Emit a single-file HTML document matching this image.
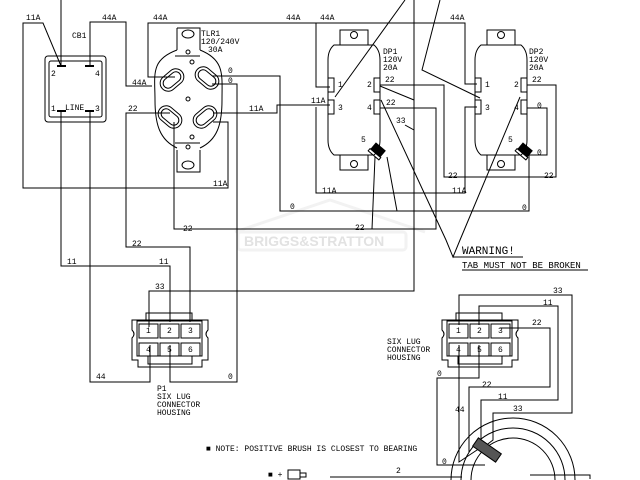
<!DOCTYPE html>
<html><head><meta charset="utf-8"><style>
html,body{margin:0;padding:0;background:#fff;width:640px;height:480px;overflow:hidden}
svg{display:block;overflow:hidden}
text{font-family:"Liberation Mono","DejaVu Sans Mono",monospace;font-size:8px;fill:#000}
</style></head><body>
<svg width="640" height="480" viewBox="0 0 640 480" xmlns="http://www.w3.org/2000/svg">
<defs><clipPath id="cl"><rect x="0" y="0" width="640" height="480"/></clipPath></defs>
<!-- watermark -->
<g opacity="0.08" stroke="#666" fill="none" stroke-width="3">
<path d="M235 232 L330 200 L425 232"/>
<rect x="238" y="232" width="168" height="18" rx="3"/>
</g>
<text x="244" y="246" style="font-size:14px;fill:#e2e2e2;font-family:'Liberation Sans',sans-serif;font-weight:bold">BRIGGS&amp;STRATTON</text>

<g fill="none" stroke="#000" stroke-width="1" clip-path="url(#cl)">
<!-- CB1 -->
<rect x="45" y="56" width="61" height="66" rx="3"/>
<rect x="49" y="61" width="53" height="56" rx="2"/>
<path d="M57 66h9M85 66h9M57 111h9M85 111h9" stroke-width="2"/>
<path d="M61 0V66"/>
<path d="M61 66L43 23H23V188H228V122H213"/>
<path d="M90 66V22H126V86H152"/>
<path d="M61 111V266H170V322"/>
<path d="M90 111V382H150V345"/>
<!-- TLR1 -->
<path d="M177 28H200V50M177 28V50M177 150V172H200V150"/>
<ellipse cx="188" cy="34" rx="6" ry="4"/>
<ellipse cx="188" cy="165" rx="6" ry="4"/>
<path d="M177 50C150 60 155 75 155 100C155 125 160 140 177 148M200 50C225 60 222 75 222 100C222 125 217 140 200 148"/>
<path d="M175 56h25M175 143h25"/>
<circle cx="188" cy="52" r="2"/><circle cx="192" cy="62" r="2"/><circle cx="188" cy="99" r="2"/><circle cx="192" cy="137" r="2"/><circle cx="188" cy="147" r="2"/>
<g transform="translate(172,80) rotate(-40)"><rect x="-13" y="-8" width="26" height="16" rx="8"/><rect x="-10" y="-5" width="20" height="10" rx="5"/></g>
<g transform="translate(207,78) rotate(40)"><rect x="-13" y="-8" width="26" height="16" rx="8"/><rect x="-10" y="-5" width="20" height="10" rx="5"/></g>
<g transform="translate(170,117) rotate(40)"><rect x="-13" y="-8" width="26" height="16" rx="8"/><rect x="-10" y="-5" width="20" height="10" rx="5"/></g>
<g transform="translate(205,117) rotate(-40)"><rect x="-13" y="-8" width="26" height="16" rx="8"/><rect x="-10" y="-5" width="20" height="10" rx="5"/></g>
<path d="M175 77H148V23H316V87H330"/>
<path d="M316 23H465V84H477"/>
<path d="M212 76H280V211H529V155H547V108H527"/>
<path d="M212 84H237V382H170V345"/>
<path d="M213 113H243V113H277V105H330"/>
<path d="M170 113H126V247H190V322"/>
<path d="M174 122V229H436V108H380"/>
<!-- DP1 -->
<g id="dp">
<path d="M340 45V30H368V45M340 155V170H368V155"/>
<circle cx="354" cy="35" r="3.5"/><circle cx="354" cy="164" r="3.5"/>
<path d="M334 45H374Q380 50 380 60V140Q380 150 374 155H334Q328 150 328 140V60Q328 50 334 45Z"/>
<rect x="328" y="78" width="6" height="14"/><rect x="328" y="100" width="6" height="14"/>
<rect x="374" y="78" width="6" height="14"/><rect x="374" y="100" width="6" height="14"/>
<g transform="translate(378,150) rotate(40)"><rect x="-6" y="-4" width="12" height="8" fill="#000"/><rect x="-7" y="4" width="14" height="3"/></g>
</g>
<use href="#dp" x="147"/>
<path d="M316 107V193H465V107H477"/>
<path d="M380 85H444V177H556V85H527"/>
<path d="M414 0V291H149V327"/>
<path d="M405 125L414 130"/>
<path d="M405 0L335 97"/>
<path d="M440 0L422 70L480 98"/>
<path d="M380 86L414 100"/>
<path d="M381 100L446 240L453 257L460 240L520 97"/>
<path d="M453 257H523M462 270H588"/>
<path d="M375 157L372 229M387 157L397 211"/>
<!-- P1 -->
<g id="p1">
<path d="M132 320H208V330Q204 334 208 338V360H202V367H138V360H132V338Q136 334 132 330Z"/>
<rect x="137" y="321" width="65" height="35"/>
<rect x="146" y="313" width="46" height="8"/>
<rect x="139" y="324" width="19" height="14"/><rect x="160" y="324" width="19" height="14"/><rect x="181" y="324" width="19" height="14"/>
<rect x="139" y="343" width="19" height="13"/><rect x="160" y="343" width="19" height="13"/><rect x="181" y="343" width="19" height="13"/>
<rect x="148" y="356" width="44" height="8"/>
</g>
<use href="#p1" x="310"/>
<path d="M459 325V295H572V413H493V440L480 450"/>
<path d="M479 325V306H558V400H481V445"/>
<path d="M500 328H550V387H469V452"/>
<path d="M459 345V462L480 448"/>
<path d="M479 345V378H437V465H485"/>
<!-- ring -->
<path d="M451 480A62 62 0 0 1 575 480M461 480A52 52 0 0 1 565 480M471 480A42 42 0 0 1 555 480"/>
<g transform="translate(487,450) rotate(35)"><rect x="-14" y="-5" width="28" height="10" fill="#555"/></g>
<path d="M330 477H462M530 475H590V479"/>
<path d="M288 470h12v9h-12z M300 473h6v4h-6z"/>
</g>
<!-- labels -->
<text x="26" y="20">11A</text><text x="72" y="38">CB1</text><text x="102" y="20">44A</text>
<text x="51" y="76">2</text><text x="95" y="76">4</text><text x="51" y="111">1</text><text x="65" y="110">LINE</text><text x="95" y="111">3</text>
<text x="132" y="85">44A</text><text x="153" y="20">44A</text><text x="286" y="20">44A</text><text x="320" y="20">44A</text><text x="450" y="20">44A</text>
<text x="201" y="36">TLR1</text><text x="201" y="44">120/240V</text><text x="208" y="52">30A</text>
<text x="228" y="73">0</text><text x="228" y="83">0</text><text x="249" y="111">11A</text><text x="311" y="103">11A</text>
<text x="128" y="111">22</text><text x="213" y="186">11A</text><text x="183" y="231">22</text><text x="290" y="209">0</text>
<text x="383" y="54">DP1</text><text x="383" y="62">120V</text><text x="383" y="70">20A</text>
<text x="529" y="54">DP2</text><text x="529" y="62">120V</text><text x="529" y="70">20A</text>
<text x="338" y="87">1</text><text x="338" y="110">3</text><text x="367" y="87">2</text><text x="367" y="110">4</text><text x="361" y="142">5</text>
<text x="485" y="87">1</text><text x="485" y="110">3</text><text x="514" y="87">2</text><text x="514" y="110">4</text><text x="508" y="142">5</text>
<text x="385" y="82">22</text><text x="386" y="105">22</text><text x="396" y="123">33</text>
<text x="532" y="82">22</text><text x="537" y="108">0</text><text x="537" y="155">0</text>
<text x="448" y="178">22</text><text x="544" y="178">22</text><text x="322" y="193">11A</text><text x="452" y="193">11A</text>
<text x="522" y="210">0</text><text x="355" y="230">22</text>
<text x="462" y="254" style="font-size:11px">WARNING!</text><text x="462" y="268" style="font-size:9px">TAB MUST NOT BE BROKEN</text>
<text x="132" y="246">22</text><text x="67" y="264">11</text><text x="159" y="264">11</text><text x="155" y="289">33</text>
<text x="96" y="379">44</text><text x="228" y="379">0</text>
<text x="146" y="333">1</text><text x="167" y="333">2</text><text x="188" y="333">3</text><text x="146" y="352">4</text><text x="167" y="352">5</text><text x="188" y="352">6</text>
<text x="456" y="333">1</text><text x="477" y="333">2</text><text x="498" y="333">3</text><text x="456" y="352">4</text><text x="477" y="352">5</text><text x="498" y="352">6</text>
<text x="157" y="391">P1</text><text x="157" y="399">SIX LUG</text><text x="157" y="407">CONNECTOR</text><text x="157" y="415">HOUSING</text>
<text x="387" y="344">SIX LUG</text><text x="387" y="352">CONNECTOR</text><text x="387" y="360">HOUSING</text>
<text x="553" y="293">33</text><text x="543" y="305">11</text><text x="532" y="325">22</text><text x="437" y="376">0</text>
<text x="482" y="387">22</text><text x="498" y="399">11</text><text x="513" y="411">33</text><text x="455" y="412">44</text><text x="442" y="464">0</text>
<text x="206" y="451">■ NOTE: POSITIVE BRUSH IS CLOSEST TO BEARING</text>
<text x="268" y="477">■ +</text><text x="396" y="473">2</text>
</svg>
</body></html>
